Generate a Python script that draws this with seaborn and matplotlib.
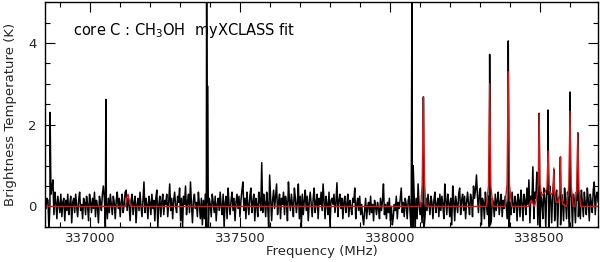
import numpy as np
import pandas as pd
import matplotlib
matplotlib.use("Agg")
import matplotlib.pyplot as plt
import seaborn as sns
from matplotlib.ticker import MultipleLocator

# ---------------- data ----------------
freq_start, freq_end = 336850.0, 338695.0

# observed baseline (noise) values, read channel by channel (~3.3 MHz steps)
noise = [
    0.10, -0.05, 0.20, 0.15, -0.60, 0.05, 0.30, 0.45, 0.65, -0.20, 0.35, 0.10, -0.30, 0.25, 0.05, -0.15, 0.30, -0.25, 0.10, 0.20,
    -0.35, 0.15, -0.10, 0.30, -0.20, 0.05, 0.25, -0.40, 0.10, 0.20, -0.15, 0.30, 0.00, -0.25, 0.15, 0.35, -0.10, 0.05, -0.30, 0.20,
    0.10, -0.20, 0.25, 0.05, -0.35, 0.30, 0.10, -0.15, 0.20, -0.05, 0.35, -0.25, 0.15, 0.00, -0.40, 0.25, 0.10, -0.10, 0.30, 0.50,
    0.20, -0.50, 0.10, -0.30, 0.20, -0.15, 0.30, 0.05, -0.20, 0.25, 0.10, -0.30, 0.15, 0.35, -0.05, 0.20, -0.25, 0.10, 0.30, -0.15,
    0.05, 0.35, 0.40, -0.10, 0.20, 0.05, -0.35, 0.15, 0.30, -0.20, 0.10, 0.25, -0.40, 0.05, 0.20, -0.10, 0.35, 0.00, -0.25, 0.15,
    0.60, -0.15, 0.20, 0.05, -0.30, 0.25, 0.10, -0.20, 0.30, -0.05, 0.15, -0.35, 0.20, 0.40, -0.50, 0.05, 0.25, -0.25, 0.10, 0.30,
    -0.20, 0.15, 0.05, 0.30, -0.25, 0.10, 0.55, -0.10, 0.20, -0.30, 0.15, 0.35, 0.00, -0.15, 0.25, 0.10, 0.45, -0.35, 0.20, -0.50,
    0.25, 0.05, 0.50, -0.20, 0.10, 0.30, -0.15, 0.60, 0.05, -0.40, 0.15, 0.30, -0.05, 0.10, -0.25, 0.35, 0.05, -0.30, 0.20, -0.45,
    0.15, -0.30, 0.30, -0.55, 0.10, -0.60, 0.20, 0.05, -0.25, 0.30, 0.10, -0.15, 0.25, -0.35, 0.05, 0.20, -0.10, 0.35, 0.00, -0.20,
    0.30, -0.50, 0.10, 0.25, -0.30, 0.45, 0.05, -0.20, 0.15, 0.35, -0.10, 0.20, -0.35, 0.10, 0.30, -0.05, 0.25, -0.25, 0.15, 0.40,
    0.60, -0.10, 0.20, -0.30, 0.35, 0.05, -0.20, 0.25, 0.45, -0.15, 0.10, 0.30, -0.35, 0.20, 0.05, -0.25, 0.35, 0.15, -0.10, 1.07,
    -0.15, 0.30, 0.10, -0.25, 0.35, 0.05, -0.50, 0.77, 0.20, -0.35, 0.15, 0.40, -0.05, 0.25, 0.55, -0.20, 0.10, 0.30, -0.30, 0.20,
    0.05, 0.35, -0.20, 0.25, 0.10, -0.35, 0.60, 0.15, -0.10, 0.30, 0.05, -0.25, 0.45, 0.20, -0.15, 0.10, 0.55, -0.30, 0.25, -0.50,
    0.30, -0.20, 0.15, 0.40, -0.10, 0.25, -0.35, 0.10, 0.35, 0.05, -0.25, 0.20, 0.45, -0.15, 0.10, 0.30, -0.30, 0.20, 0.05, 0.35,
    -0.10, 0.55, 0.10, -0.30, 0.25, 0.05, -0.20, 0.35, -0.50, 0.15, 0.20, 0.05, 0.30, -0.15, 0.10, 0.58, -0.25, 0.15, 0.30, -0.05,
    0.20, -0.30, 0.10, 0.25, -0.15, 0.05, 0.30, -0.25, 0.15, 0.00, -0.20, 0.20, 0.10, 0.45, -0.30, 0.05, 0.20, -0.10, 0.25, -0.20,
    0.05, -0.25, -0.45, -0.10, 0.20, -0.30, 0.00, 0.10, -0.20, 0.25, -0.15, 0.05, -0.35, 0.15, 0.00, -0.20, 0.10, -0.05, -0.30, 0.20,
    -0.10, 0.15, 0.55, -0.20, 0.05, -0.30, 0.10, -0.15, 0.20, -0.35, 0.00, -0.45, -0.25, 0.05, -0.10, 0.25, -0.30, 0.10, -0.05, 0.20,
    0.45, -0.15, 0.10, -0.25, 0.20, 0.05, -0.30, 0.15, 0.25, -0.20, -0.60, 0.20, -0.55, 0.30, -0.60, 0.20, -0.30, 0.55, 0.05, -0.20,
    0.10, -0.40, 0.15, -0.55, -0.25, 0.20, -0.10, 0.30, 0.05, -0.20, 0.25, 0.10, -0.30, 0.15, 0.35, -0.15, 0.05, 0.20, -0.25, 0.30,
    -0.10, 0.25, 0.05, -0.30, 0.55, 0.15, -0.20, 0.30, 0.10, -0.25, 0.20, -0.45, 0.50, 0.15, -0.35, 0.25, 0.05, -0.15, 0.30, 0.45,
    -0.20, 0.15, 0.30, -0.10, 0.25, -0.30, 0.10, 0.35, 0.05, -0.20, 0.30, 0.15, -0.25, 0.50, 0.20, 0.40, 0.77, 0.25, -0.15, 0.35,
    0.45, -0.45, 0.20, 0.10, -0.30, 0.35, 0.05, -0.20, 0.25, -0.50, -0.45, -0.35, 0.20, 0.10, -0.25, 0.30, -0.10, 0.15, 0.35, -0.20,
    0.10, 0.30, -0.25, 0.15, -0.05, 0.25, 0.05, -0.30, 0.20, -0.50, 0.10, -0.20, 0.35, 0.05, -0.15, 0.25, 0.10, -0.35, 0.30, 0.15,
    -0.25, 0.40, 0.10, -0.35, 0.30, 0.15, -0.20, 0.45, 0.05, 0.65, -0.40, 0.25, 0.10, 0.97, -0.30, 0.35, 0.20, 0.84, -0.45, 0.30,
    -0.55, 0.35, 0.10, -0.30, 0.45, 0.20, -0.50, 0.40, 0.30, -0.55, 0.50, 0.15, -0.40, 0.35, 0.60, -0.35, 0.25, 0.40, -0.50, 0.20,
    0.25, -0.45, 0.30, 0.10, -0.35, 0.45, 0.15, -0.30, 0.35, 0.05, -0.55, 0.40, 0.20, -0.50, 0.30, 0.10, -0.40, 0.35, 0.15, -0.25,
    0.30, -0.30, 0.40, 0.10, -0.25, 0.35, 0.05, -0.20, 0.45, 0.15, -0.35, 0.30, 0.10, -0.15, 0.40, 0.60, -0.20, 0.25, 0.35, 0.10,
]

# observed emission-line peaks (MHz, K)
line_freqs = [336867, 337053, 337389, 337392, 338074, 338078, 338112,
              338333, 338395, 338498, 338528, 338547, 338569, 338601, 338627]
line_peaks = [2.30, 2.62, 5.60, 2.95, 5.60, 1.00, 2.68,
              3.72, 4.05, 2.28, 2.36, 0.90, 1.21, 2.80, 1.80]

# myXCLASS CH3OH model (vertices, MHz, K)
model_freqs = [336850, 337118, 337123, 337127, 337131, 337136,
               338103, 338108, 338112, 338116, 338121,
               338322, 338329, 338333, 338337, 338344,
               338384, 338391, 338395, 338399, 338406,
               338462, 338472, 338482, 338490, 338495, 338498, 338501, 338506,
               338510, 338518, 338524, 338528, 338532, 338537,
               338540, 338544, 338547, 338550, 338555,
               338562, 338566, 338569, 338572, 338577,
               338590, 338597, 338601, 338605, 338612,
               338617, 338623, 338627, 338631, 338637, 338695]
model_temps = [0.0, 0.0, 0.22, 0.30, 0.15, 0.0,
               0.0, 0.55, 2.68, 0.55, 0.0,
               0.0, 0.50, 3.00, 0.50, 0.0,
               0.0, 0.55, 3.30, 0.55, 0.0,
               0.0, 0.15, 0.0, 0.20, 0.55, 2.27, 0.55, 0.25,
               0.30, 0.35, 0.45, 1.36, 0.40, 0.30,
               0.30, 0.35, 0.94, 0.30, 0.10,
               0.10, 0.30, 1.21, 0.30, 0.05,
               0.0, 0.50, 2.33, 0.50, 0.0,
               0.0, 0.40, 1.80, 0.40, 0.0, 0.0]

xticks_major = [337000, 337500, 338000, 338500]

# ---------------- build tables ----------------
chan_freq = np.linspace(freq_start, freq_end, len(noise))
obs = pd.DataFrame({"freq": np.concatenate([chan_freq, np.array(line_freqs, float) + 0.01]),
                    "tb": np.concatenate([np.array(noise), np.array(line_peaks)])})
obs = obs.sort_values("freq").reset_index(drop=True)
mod = pd.DataFrame({"freq": model_freqs, "tb": model_temps})

# ---------------- plot ----------------
sns.set_theme(style="white")
plt.rcParams["font.family"] = ["DejaVu Sans"]

fig = plt.figure(figsize=(6.0, 2.62), dpi=100)
ax = fig.add_axes([0.075, 0.134, 0.922, 0.858])

sns.lineplot(data=obs, x="freq", y="tb", ax=ax, color="black", lw=1.1,
             estimator=None, sort=True)
sns.lineplot(data=mod, x="freq", y="tb", ax=ax, color="#d81818", lw=1.0,
             estimator=None, sort=True)

ax.set_xlim(freq_start, freq_end)
ax.set_ylim(-0.5, 5.0)
ax.set_xticks(xticks_major)
ax.set_xticklabels([str(v) for v in xticks_major])
ax.xaxis.set_minor_locator(MultipleLocator(100))
ax.set_yticks([0, 2, 4])
ax.yaxis.set_minor_locator(MultipleLocator(0.5))
ax.tick_params(which="both", direction="in", top=True, right=True,
               bottom=True, left=True, color="black", width=0.8)
ax.tick_params(which="major", length=7, labelsize=9.5)
ax.tick_params(axis="x", which="major", pad=4)
ax.tick_params(axis="y", which="major", pad=6)
ax.tick_params(which="minor", length=3.5)
for s in ax.spines.values():
    s.set_color("black")
    s.set_linewidth(1.0)

ax.set_xlabel("Frequency (MHz)", fontsize=9.5, labelpad=0)
ax.set_ylabel("Brightness Temperature (K)", fontsize=9.5, labelpad=8)
ax.text(0.05, 0.872, r"core C : CH$_3$OH  myXCLASS fit", transform=ax.transAxes,
        fontsize=10.5, ha="left", va="center", color="black")

fig.savefig("out.png", dpi=100)
